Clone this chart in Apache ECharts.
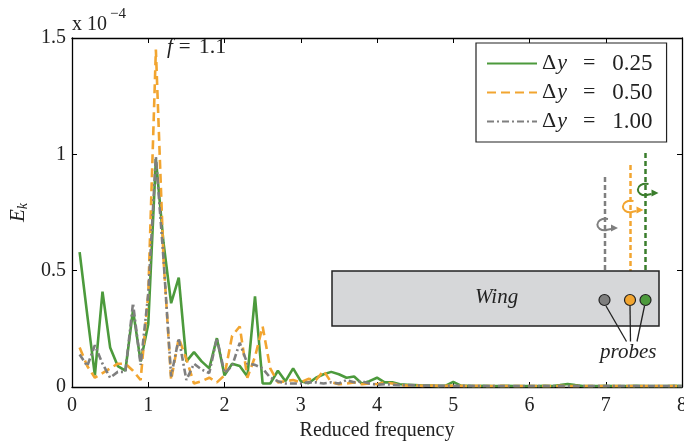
<!DOCTYPE html>
<html>
<head>
<meta charset="utf-8">
<script src="https://cdn.jsdelivr.net/npm/echarts@6/dist/echarts.min.js"></script>
<style>html,body{margin:0;padding:0;background:#fff;}#c{width:684px;height:442px;}</style>
</head>
<body>
<div id="c"></div>
<script>
// Reduced frequency samples
const freq = [0.1,0.2,0.3,0.4,0.5,0.6,0.7,0.8,0.9,1.0,
  1.1,1.2,1.3,1.4,1.5,1.6,1.7,1.8,1.9,2.0,
  2.1,2.2,2.3,2.4,2.5,2.6,2.7,2.8,2.9,3.0,
  3.1,3.2,3.3,3.4,3.5,3.6,3.7,3.8,3.9,4.0,
  4.1,4.2,4.3,4.4,4.5,4.6,4.7,4.8,4.9,5.0,
  5.1,5.2,5.3,5.4,5.5,5.6,5.7,5.8,5.9,6.0,
  6.1,6.2,6.3,6.4,6.5,6.6,6.7,6.8,6.9,7.0,
  7.1,7.2,7.3,7.4,7.5,7.6,7.7,7.8,7.9,8.0];
// E_k values in units of 1e-4
const dy025 = [0.58,0.31,0.05,0.41,0.17,0.09,0.07,0.33,0.11,0.27,
  0.98,0.62,0.36,0.47,0.11,0.15,0.11,0.08,0.21,0.05,
  0.10,0.09,0.045,0.39,0.015,0.015,0.07,0.025,0.08,0.025,
  0.016,0.04,0.055,0.065,0.055,0.04,0.045,0.015,0.025,0.04,
  0.02,0.02,0.012,0.01,0.008,0.006,0.006,0.005,0.006,0.022,
  0.006,0.005,0.004,0.005,0.004,0.004,0.005,0.004,0.004,0.004,
  0.004,0.005,0.004,0.008,0.013,0.008,0.004,0.004,0.004,0.005,
  0.004,0.004,0.004,0.005,0.004,0.004,0.004,0.004,0.005,0.004];
const dy050 = [0.17,0.09,0.04,0.06,0.08,0.10,0.10,0.07,0.03,0.40,
  1.45,0.55,0.03,0.21,0.12,0.015,0.025,0.04,0.02,0.05,
  0.22,0.26,0.04,0.13,0.26,0.08,0.02,0.025,0.03,0.02,
  0.035,0.03,0.07,0.02,0.012,0.015,0.02,0.012,0.015,0.012,
  0.02,0.015,0.008,0.006,0.007,0.005,0.006,0.005,0.005,0.006,
  0.005,0.004,0.005,0.004,0.004,0.005,0.004,0.004,0.004,0.004,
  0.004,0.004,0.004,0.005,0.004,0.004,0.004,0.004,0.004,0.004,
  0.004,0.004,0.004,0.004,0.004,0.004,0.004,0.004,0.004,0.004];
const dy100 = [0.14,0.09,0.18,0.10,0.04,0.065,0.065,0.36,0.095,0.40,
  0.99,0.55,0.045,0.21,0.03,0.10,0.075,0.06,0.21,0.06,
  0.09,0.19,0.10,0.095,0.08,0.04,0.025,0.015,0.015,0.015,
  0.02,0.02,0.015,0.02,0.015,0.03,0.02,0.025,0.015,0.01,
  0.012,0.01,0.008,0.008,0.007,0.006,0.006,0.005,0.005,0.005,
  0.005,0.005,0.004,0.004,0.004,0.004,0.004,0.004,0.004,0.004,
  0.004,0.004,0.004,0.004,0.004,0.004,0.004,0.004,0.004,0.004,
  0.004,0.004,0.004,0.004,0.004,0.004,0.004,0.004,0.004,0.004];
const seriesNames = ['0.25','0.50','1.00'];
const yTicks = ['0','0.5','1','1.5'];

const GREEN = '#4c9a3c', DGREEN = '#3a7d2c', ORANGE = '#f2a530', GRAY = '#7f7f7f';
const SERIF = '"Liberation Serif", "Times New Roman", serif';
const pairs = arr => freq.map((f, i) => [f, arr[i]]);

function rotArrow(x, y, color) {
  return [
    {type: 'bezierCurve', z: 11, shape: {x1: x + 3, y1: y - 6, cpx1: x - 11, cpy1: y - 8, cpx2: x - 11, cpy2: y + 7, x2: x + 2, y2: y + 5},
      style: {fill: null, stroke: color, lineWidth: 2}},
    {type: 'line', z: 11, shape: {x1: x + 1, y1: y + 5, x2: x + 6, y2: y + 4}, style: {stroke: color, lineWidth: 2}},
    {type: 'polygon', z: 11, shape: {points: [[x + 6, y - 0.5], [x + 13, y + 3], [x + 6, y + 6.5]]}, style: {fill: color}}
  ];
}

const chart = echarts.init(document.getElementById('c'), null, {renderer: 'canvas'});
const axisCommon = {
  axisLine: {show: true, onZero: false, lineStyle: {color: '#000', width: 1.3}},
  axisTick: {show: true, inside: true, length: 5, lineStyle: {color: '#000', width: 1}},
  splitLine: {show: false}
};
const legendFmt = name => '{d|Δ}{i|y}{e|=}{n|' + name + '}';
chart.setOption({
  animation: false,
  grid: {left: 72, right: 2, top: 38, bottom: 55, outerBoundsMode: 'none', containLabel: false},
  legend: {
    orient: 'vertical', left: 476, top: 43,
    padding: [9, 14, 9, 10], itemGap: 6, itemWidth: 50, itemHeight: 14,
    itemStyle: {opacity: 0},
    backgroundColor: '#fff', borderColor: '#222', borderWidth: 1.2, borderRadius: 0,
    data: seriesNames,
    formatter: legendFmt,
    textStyle: {
      fontFamily: SERIF, fontSize: 22, color: '#222',
      rich: {
        d: {fontFamily: SERIF, fontSize: 22, color: '#222'},
        i: {fontFamily: SERIF, fontSize: 22, fontStyle: 'italic', color: '#222', padding: [0, 0, 0, 1]},
        e: {fontFamily: SERIF, fontSize: 22, color: '#222', padding: [0, 17, 0, 16]},
        n: {fontFamily: SERIF, fontSize: 23, color: '#222'}
      }
    }
  },
  xAxis: [
    Object.assign({}, axisCommon, {
      type: 'value', min: 0, max: 8, interval: 1, position: 'bottom',
      axisLabel: {fontFamily: SERIF, fontSize: 20, color: '#222', margin: 9},
      name: 'Reduced frequency', nameLocation: 'middle', nameGap: 31,
      nameTextStyle: {fontFamily: SERIF, fontSize: 20, color: '#222'}
    }),
    Object.assign({}, axisCommon, {
      type: 'value', min: 0, max: 8, interval: 1, position: 'top',
      axisLabel: {show: false}
    })
  ],
  yAxis: [
    Object.assign({}, axisCommon, {
      type: 'value', min: 0, max: 1.5, interval: 0.5, position: 'left',
      axisLabel: {fontFamily: SERIF, fontSize: 20, color: '#222', margin: 6,
        formatter: v => yTicks[Math.round(v / 0.5)]},
      name: '{i|E}{s|k}', nameLocation: 'middle', nameGap: 33,
      nameTextStyle: {rich: {
        i: {fontFamily: SERIF, fontSize: 21, fontStyle: 'italic', color: '#222'},
        s: {fontFamily: SERIF, fontSize: 14, fontStyle: 'italic', color: '#222', padding: [10, 0, 0, 0]}
      }}
    }),
    Object.assign({}, axisCommon, {
      type: 'value', min: 0, max: 1.5, interval: 0.5, position: 'right',
      axisLabel: {show: false}
    })
  ],
  series: [
    {name: seriesNames[0], type: 'line', data: pairs(dy025), symbol: 'none', showSymbol: false,
      lineStyle: {color: GREEN, width: 2.6}, itemStyle: {color: GREEN}, z: 2},
    {name: seriesNames[1], type: 'line', data: pairs(dy050), symbol: 'none', showSymbol: false,
      lineStyle: {color: ORANGE, width: 2.6, type: [9, 5]}, itemStyle: {color: ORANGE}, z: 3},
    {name: seriesNames[2], type: 'line', data: pairs(dy100), symbol: 'none', showSymbol: false,
      lineStyle: {color: GRAY, width: 2.6, type: [7, 3, 2, 3]}, itemStyle: {color: GRAY}, z: 4}
  ],
  graphic: [
    {type: 'text', x: 72, y: 15, style: {text: 'x 10', fontFamily: SERIF, fontSize: 20, fill: '#222'}},
    {type: 'text', x: 110, y: 7, style: {text: '−4', fontFamily: SERIF, fontSize: 15, fill: '#222'}},
    {type: 'text', x: 167, y: 36, style: {text: '{i|f}{e|=}{n|1.1}', rich: {
      i: {fontFamily: SERIF, fontSize: 21, fontStyle: 'italic', fill: '#222'},
      e: {fontFamily: SERIF, fontSize: 21, fill: '#222', padding: [0, 8, 0, 6]},
      n: {fontFamily: SERIF, fontSize: 22, fill: '#222'}}}},
    // wing schematic
    {type: 'line', z: 10, shape: {x1: 605, y1: 177, x2: 605, y2: 271}, style: {stroke: GRAY, lineWidth: 2.5, lineDash: [5, 3]}},
    {type: 'line', z: 10, shape: {x1: 630.5, y1: 165, x2: 630.5, y2: 271}, style: {stroke: ORANGE, lineWidth: 2.5, lineDash: [5, 3]}},
    {type: 'line', z: 10, shape: {x1: 645.5, y1: 153, x2: 645.5, y2: 271}, style: {stroke: DGREEN, lineWidth: 2.5, lineDash: [5, 3]}}
  ].concat(rotArrow(605, 225, GRAY), rotArrow(630.5, 207, ORANGE), rotArrow(645.5, 190, DGREEN), [
    {type: 'rect', z: 10, shape: {x: 332, y: 271, width: 327, height: 55}, style: {fill: '#d6d7d9', stroke: '#222', lineWidth: 1.5}},
    {type: 'text', z: 11, x: 475, y: 287, style: {text: 'Wing', fontFamily: SERIF, fontSize: 21, fontStyle: 'italic', fill: '#222'}},
    {type: 'circle', z: 12, shape: {cx: 604.5, cy: 300, r: 5.5}, style: {fill: GRAY, stroke: '#222', lineWidth: 1.2}},
    {type: 'circle', z: 12, shape: {cx: 630, cy: 300, r: 5.5}, style: {fill: ORANGE, stroke: '#222', lineWidth: 1.2}},
    {type: 'circle', z: 12, shape: {cx: 645.5, cy: 300, r: 5.5}, style: {fill: GREEN, stroke: '#222', lineWidth: 1.2}},
    {type: 'line', z: 12, shape: {x1: 606, y1: 306, x2: 626.5, y2: 341.5}, style: {stroke: '#222', lineWidth: 1.3}},
    {type: 'line', z: 12, shape: {x1: 630, y1: 306, x2: 630.5, y2: 341.5}, style: {stroke: '#222', lineWidth: 1.3}},
    {type: 'line', z: 12, shape: {x1: 644.5, y1: 306, x2: 637, y2: 341.5}, style: {stroke: '#222', lineWidth: 1.3}},
    {type: 'text', z: 12, x: 600, y: 342, style: {text: 'probes', fontFamily: SERIF, fontSize: 21, fontStyle: 'italic', fill: '#222'}}
  ])
});
</script>
</body>
</html>
